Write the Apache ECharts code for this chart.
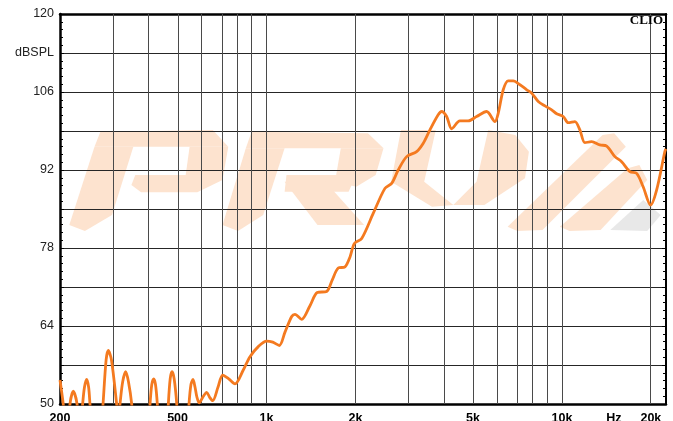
<!DOCTYPE html>
<html>
<head>
<meta charset="utf-8">
<script src="https://cdn.jsdelivr.net/npm/echarts@6/dist/echarts.min.js"></script>
<style>
html,body{margin:0;padding:0;background:#fff;overflow:hidden;}
#chart{width:673px;height:421px;}
</style>
</head>
<body>
<div id="chart"></div>
<script>
// ---- data ----
const freqHz = [200,204,208,212,214.5,216.2,221.8,228.4,231,234.5,238.6,242,246.2,250,252.6,257,266,275,279.7,286.5,291.4,298.7,311,315,319.2,326,333.7,341,349.7,355,378,398,403.4,409,415.2,421,427,432,448,461,465.3,472,478.9,487,496.8,502,524,541,546.7,555,563.9,573,581,592.2,610,627.4,642,657.5,685,710.8,745,782,834.5,879.1,938,1001,1050,1105,1155,1217,1248,1315,1402,1485,1598,1670,1749,1843,1917,1984,2100,2297,2517,2653,2791,2982,3222,3393,3574,3812,3915,4071,4233,4515,4816,5142,5560,5932,6087,6328,6577,6840,7210,7600,7898,8314,8759,9229,9598,10100,10500,11060,11500,11960,12600,13440,14170,15110,15920,16980,17900,18830,19950,20910,22300,22480];
const splDb = [54.3,51.0,47.5,45,46,50,52.3,50,46,45,50,53,54.4,53,50,45,41,45,50,57.9,59.6,57.9,50,47,50,54,55.8,54,50,45,40,45,50,53.5,54.5,53.5,50,45,41,45,50,54.5,55.8,54.5,50,45,41,45,50,53.5,54.4,53,51.3,50.2,51.3,52.1,51.2,50.6,53,55.2,54.5,53.6,56.1,58.5,60.3,61.3,61.1,60.5,62.9,65.7,66.1,65.2,67.6,70.0,70.2,72.3,74.4,74.6,76.4,78.8,79.7,84.2,88.7,89.6,92.0,94.4,95.3,96.8,99.2,101.9,102.5,101.6,99.4,100.8,100.8,101.6,102.5,100.7,102.2,106.4,108.0,108.0,107.3,106.4,105.8,104.3,103.5,102.8,102.1,101.6,100.5,100.7,99.2,96.9,97.1,96.5,96.3,94.4,93.5,91.7,91.4,89.0,85.7,88.4,95.3,95.8];

const xLabelFreqs = [200,500,1000,2000,5000,10000,15000,20000];
const xLabelTexts = ['200','500','1k','2k','5k','10k','Hz','20k'];
const xGridFreqs = [300,400,500,600,700,800,900,1000,2000,3000,4000,5000,6000,7000,8000,9000,10000,20000];
const yTickValues = [50,57,64,71,78,85,92,99,106,113,120];
const yTickLabels = ['50','','64','','78','','92','','106','dBSPL','120'];

const xMin = 200, xMax = 22500;

// watermark shapes (decoration, pixels)
const wmOrange = [
  [[100.4,131.7],[212.8,130],[228.3,146.7],[94.5,146.7]],
  [[94.5,146.7],[133.3,146.7],[112,215],[84.9,231],[69.3,225]],
  [[189.6,146.7],[228.3,146.7],[222.5,180],[197.3,192.3],[185.7,175]],
  [[135.3,175],[195.4,175],[197.3,192.3],[141.1,192.3],[131.4,185]],
  [[251.6,131.7],[368,133.3],[383.5,148.3],[245.8,148.3]],
  [[245.8,148.3],[284.6,148.3],[263.2,215],[238,231],[222.5,225]],
  [[340.8,148.3],[383.5,148.3],[375.7,175],[356.3,186.7],[335,181.7]],
  [[286.5,175],[356.3,175],[348.6,191.7],[284.6,191.7]],
  [[284.6,181.7],[325.3,181.7],[364.1,225],[317.5,225]],
  [[400.9,130],[435.8,130],[424.2,181.7],[453.3,205],[432,206.7],[391.2,181.7]],
  [[488.2,130],[515.3,135],[528.9,151.7],[525,178.3],[484.3,205],[453.3,205],[476.5,181.7]],
  [[507.6,226.7],[517.3,231],[542.5,230],[625.8,146.7],[614.2,133.3],[602.6,135]],
  [[559.9,226.7],[569.6,231],[600.6,230],[647.2,180],[639.4,165],[627.8,168.3]]
];
const wmGray = [[[610.3,230],[643.3,200],[660.7,215],[647.2,231]]];

// ---- build ----
const lg = v => Math.log10(v);
const seriesData = freqHz.map((f, i) => [lg(f), splDb[i]]);
function xLabel(v) {
  for (let i = 0; i < xLabelFreqs.length; i++) {
    if (Math.abs(lg(xLabelFreqs[i]) - v) < 1e-6) return xLabelTexts[i];
  }
  return '';
}
function yLabel(v) {
  const i = yTickValues.indexOf(Math.round(v));
  return i >= 0 ? yTickLabels[i] : '';
}

const graphics = [];
wmOrange.forEach(p => graphics.push({type:'polygon', z:-1, silent:true, shape:{points:p}, style:{fill:'#fde3cf'}}));
wmGray.forEach(p => graphics.push({type:'polygon', z:-1, silent:true, shape:{points:p}, style:{fill:'#e8e8e8'}}));
graphics.push({type:'text', right:10, top:14, z:100, style:{text:'CLIO', font:'bold 13px "Liberation Serif", "DejaVu Serif", serif', fill:'#000'}});

const chart = echarts.init(document.getElementById('chart'), null, {renderer:'canvas'});
const axisFont = '"Liberation Sans", Arial, sans-serif';
chart.setOption({
  animation: false,
  backgroundColor: '#fff',
  graphic: graphics,
  grid: {left:60, right:7, top:14, bottom:17, containLabel:false, outerBoundsMode:'none'},
  xAxis: [{
    type:'value', min:lg(xMin), max:lg(xMax),
    axisLine:{show:true, onZero:false, lineStyle:{color:'#000', width:2.5}},
    axisTick:{show:false},
    splitLine:{show:false},
    axisLabel:{customValues:xLabelFreqs.map(lg), formatter:xLabel, margin:8, color:'#000', fontWeight:'bold', fontSize:12.5, fontFamily:axisFont}
  },{
    type:'value', position:'top', min:lg(xMin), max:lg(xMax),
    axisLine:{show:true, onZero:false, lineStyle:{color:'#000', width:2.5}},
    axisTick:{show:false}, axisLabel:{show:false}, splitLine:{show:false}
  }],
  yAxis: [{
    type:'value', min:50, max:120, interval:7,
    axisLine:{show:true, onZero:false, lineStyle:{color:'#000', width:2.5}},
    axisTick:{show:true, inside:true, length:4, lineStyle:{color:'#000'}},
    minorTick:{show:true, splitNumber:5, length:3, lineStyle:{color:'#000'}},
    splitLine:{show:true, lineStyle:{color:'#262626', width:1}},
    axisLabel:{formatter:yLabel, margin:6, color:'#222', fontSize:12.5, fontFamily:axisFont}
  },{
    type:'value', position:'right', min:50, max:120, interval:7,
    axisLine:{show:true, onZero:false, lineStyle:{color:'#000', width:2}},
    axisTick:{show:true, inside:true, length:4, lineStyle:{color:'#000'}},
    minorTick:{show:true, splitNumber:5, length:3, lineStyle:{color:'#000'}},
    splitLine:{show:false}, axisLabel:{show:false}
  }],
  series: [{
    type:'line', data:seriesData, showSymbol:false, smooth:0.3, z:10,
    lineStyle:{color:'#f47a20', width:2.8},
    markLine:{silent:true, z:1, symbol:'none', animation:false,
      label:{show:false},
      lineStyle:{color:'#4a4a4a', width:1, type:'solid'},
      emphasis:{disabled:true},
      data:xGridFreqs.map(f => ({xAxis:lg(f)}))}
  }]
});
</script>
</body>
</html>
